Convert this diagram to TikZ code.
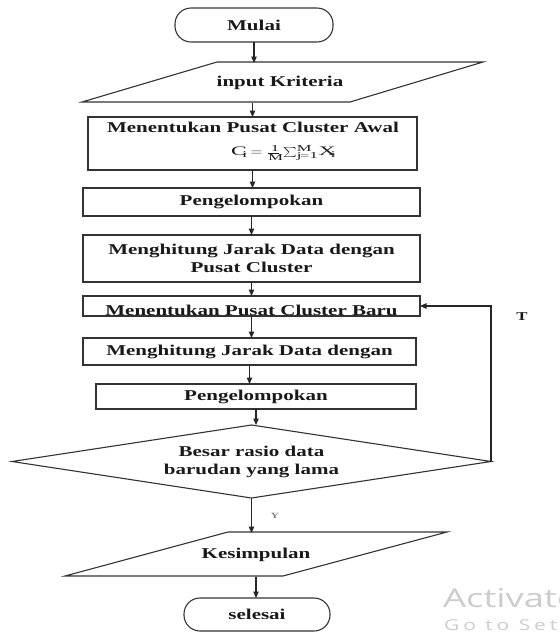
\documentclass[tikz,border=0pt]{standalone}
\usepackage{fontspec}
\setmainfont{Liberation Serif}[FakeStretch=1.4]
\newfontfamily\wmfont{Open Sans}[FakeStretch=1.4]
\newfontfamily\wmsmall{Open Sans}[FakeStretch=1.4, LetterSpace=26]
\usetikzlibrary{shapes.geometric,arrows.meta,positioning}
\tikzset{
  base/.style={draw=black!80, line width=1.1pt, outer sep=0pt, inner sep=0pt,
    font=\fontsize{15}{18}\selectfont\bfseries, text=black!90},
  terminal/.style={base, rectangle, rounded corners=16pt},
  process/.style={base, rectangle, align=center},
  io/.style={base, draw=none, rectangle},
  outline/.style={draw=black!80, line width=1.1pt, line join=miter},
  decision/.style={base, diamond, aspect=6.5, align=center},
  flow/.style={draw=black!85, line width=1.1pt, -{Triangle[length=6.5pt,width=5.5pt]}},
}

\begin{document}
\begin{tikzpicture}[x=1pt,y=-1pt]
                   \useasboundingbox (0,0) rectangle (560,633);
                   \node[terminal, minimum width=158pt, minimum height=34pt] (mulai) at (254,25) {Mulai};
                   \node[io, minimum height=40pt] (input) at (280,83) {input Kriteria};
                   \draw[outline] (217,62) -- (483,62) -- (350,102) -- (82,102) -- cycle;
                   \node[process, minimum width=329pt, minimum height=53pt] (awal) at (252.5,143.5) {};
                   \node[base, draw=none] (awaltxt) at (253,127) {Menentukan Pusat Cluster Awal};
                   \node[base, draw=none, font=\fontsize{13}{15}\selectfont] (rumus) at (283,153)
                         {\scalebox{1.3}[1]{$\mathrm{C_i = \frac{1}{M}\sum_{j=1}^{M} X_i}$}};
                   \node[process, minimum width=337pt, minimum height=28pt] (grup1) at (251.5,202) {Pengelompokan};
                   \node[process, minimum width=337pt, minimum height=47pt] (jarak1) at (251.5,258.5)
                         {Menghitung Jarak Data dengan\\Pusat Cluster};
                   \node[process, minimum width=337pt, minimum height=20pt,
                         path picture={\node[base, draw=none, anchor=base] (barutxt)
                           at ([yshift=-9pt]path picture bounding box.center) {Menentukan Pusat Cluster Baru};}]
                         (baru) at (251.5,306) {};
                   \node[process, minimum width=333pt, minimum height=27pt] (jarak2) at (249.5,351.5) {Menghitung Jarak Data dengan};
                   \node[process, minimum width=320pt, minimum height=25pt] (grup2) at (256,396.5) {Pengelompokan};
                   \node[decision, minimum width=479pt, minimum height=73pt] (rasio) at (251.5,461.5)
                         {Besar rasio data\\barudan yang lama};
                   \node[io, minimum height=44pt] (hasil) at (256,555) {Kesimpulan};
                   \draw[outline] (228,532) -- (447,532) -- (283,576) -- (65,576) -- cycle;
                   \node[terminal, minimum width=146pt, minimum height=33pt] (selesai) at (257,614.5) {selesai};
                   % label cabang
                   \node[base, draw=none, font=\fontsize{12}{14}\selectfont\bfseries] (tlabel) at (522,317) {T};
                   \node[base, draw=none, font=\fontsize{8}{10}\selectfont\bfseries, text=black!50] (ylabel) at (275,516) {Y};
                   % aliran
                   \draw[flow] (mulai.south) -- (mulai.south |- input.north);
                   \draw[flow] (awal.north |- input.south) -- (awal.north);
                   \draw[flow] (awal.south) -- (awal.south |- grup1.north);
                   \draw[flow] (grup1.south) -- (grup1.south |- jarak1.north);
                   \draw[flow] (jarak1.south) -- (jarak1.south |- baru.north);
                   \draw[flow] (baru.south) -- (baru.south |- jarak2.north);
                   \draw[flow] (jarak2.south) -- (jarak2.south |- grup2.north);
                   \draw[flow] (grup2.south) -- (grup2.south |- rasio.north);
                   \draw[flow] (rasio.south) -- (rasio.south |- hasil.north);
                   \draw[flow] (hasil.south) -- (hasil.south |- selesai.north);
                   \draw[flow] (rasio.east) |- (baru.east);
                   % watermark
                   \begin{scope}
                   \clip (0,0) rectangle (560,633);
                   \node[anchor=base west, inner sep=0pt, text=black!20, font=\wmfont\fontsize{26}{28}\selectfont] (wm1) at (443,607) {Activate Windows};
                   \node[anchor=base west, inner sep=0pt, text=black!20, font=\wmsmall\fontsize{15}{17}\selectfont] (wm2) at (444,630) {Go to Settings to activate Windows.};
                   \end{scope}
                \end{tikzpicture}
\end{document}
